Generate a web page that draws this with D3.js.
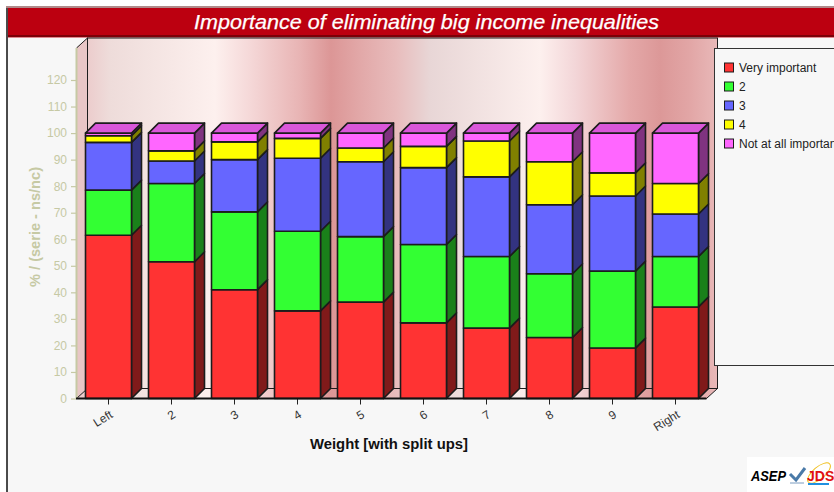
<html>
<head>
    <title>Importance of eliminating big income inequalities</title>
    <style>
        html, body { margin: 0; padding: 0; background: #fff; overflow: hidden; }
        text { font-family: "Liberation Sans", Arial, sans-serif; }
    </style>
</head>
<body>
<svg id="svg" width="834" height="492"></svg>
<script src="https://d3js.org/d3.v7.min.js" charset="utf-8"></script>
<script>
    const categories = ["Left", "2", "3", "4", "5", "6", "7", "8", "9", "Right"];
    const seriesNames = ["Very important", "2", "3", "4", "Not at all important"];
    const veryImportant = [61.5, 51.5, 41, 33, 36.3, 28.5, 26.5, 23, 19, 34.5];
    const two = [17, 29.5, 29.3, 30, 24.7, 29.5, 27, 24, 29, 19];
    const three = [18, 8.5, 19.7, 27.5, 28.2, 29, 30, 26, 28.3, 16];
    const four = [2.5, 3.8, 6.7, 7.5, 5.2, 8, 13.5, 16.2, 8.7, 11.5];
    const notAtAll = [1, 6.7, 3.3, 2, 5.6, 5, 3, 10.8, 15, 19];
    const seriesValues = [veryImportant, two, three, four, notAtAll];
    const yTicks = d3.range(0, 121, 10);

    const colors = ["#ff3333", "#33ff33", "#6666ff", "#ffff00", "#ff66ff"];
    const sideColors = ["#801a1a", "#1a801a", "#333380", "#808000", "#803380"];
    const topColor = "#d957d9";
    const lineColor = "#1c1c1c";
    const axisColor = "#c6c9a4";
    const depth = 10;

    const svg = d3.select("#svg");

    const x = d3.scaleBand().domain(categories).range([77, 707]).paddingInner(17 / 63).paddingOuter(17 / 126);
    const y = d3.scaleLinear().domain([0, 120]).range([398.5, 80]);

    const rows = categories.map(function(c, i) {
        const row = {category: c};
        seriesNames.forEach(function(s, j) { row[j] = seriesValues[j][i]; });
        return row;
    });
    const stacked = d3.stack().keys(d3.range(seriesNames.length))(rows);

    // chart background and frame
    svg.append("rect").attr("x", 7).attr("y", 7).attr("width", 840).attr("height", 500)
        .attr("fill", "#f7f7f7").attr("stroke", "#111").attr("stroke-width", 1.5);
    svg.append("rect").attr("x", 6).attr("y", 6).attr("width", 828).attr("height", 2).attr("fill", "#b08a8a");
    svg.append("rect").attr("x", 8).attr("y", 8).attr("width", 826).attr("height", 27.5).attr("fill", "#bc0010");
    svg.append("rect").attr("x", 8).attr("y", 35).attr("width", 826).attr("height", 2).attr("fill", "#7c0008");
    svg.append("rect").attr("x", 8).attr("y", 37).attr("width", 826).attr("height", 1).attr("fill", "#e08890");
    svg.append("text").attr("x", 426.5).attr("y", 29).attr("text-anchor", "middle")
        .attr("fill", "#fff").attr("stroke", "#fff").attr("stroke-width", 0.25)
        .style("font-size", "20px").style("font-style", "italic")
        .attr("textLength", 465).attr("lengthAdjust", "spacingAndGlyphs")
        .text("Importance of eliminating big income inequalities");

    // wall gradient, repeats along the back wall
    const grad = svg.append("defs").append("linearGradient").attr("id", "wall")
        .attr("gradientUnits", "userSpaceOnUse").attr("x1", 87).attr("x2", 717).attr("y1", 0).attr("y2", 0);
    [[87, "#eccccc"], [110, "#eedcda"], [215, "#fdf0ee"], [250, "#f5d8d8"], [300, "#e8b4b4"], [331, "#dc9696"],
     [360, "#e2a8a8"], [396, "#e8bcbc"], [430, "#e8d6d6"], [540, "#fdf0ee"], [575, "#f3d6d8"], [630, "#e4a8a8"],
     [660, "#dc9898"], [690, "#e2a6a6"], [717, "#e8b8b8"]].forEach(function(d) {
        grad.append("stop").attr("offset", (d[0] - 87) / 630).attr("stop-color", d[1]);
    });

    // back wall, left wall, floor
    const x0 = 76.5, x1 = 706.5, yBase = y(0), yTop = 48;
    svg.append("rect").attr("x", x0 + depth + 1).attr("y", yTop - depth).attr("width", 630).attr("height", yBase - yTop)
        .attr("fill", "url(#wall)").attr("stroke", lineColor);
    svg.append("path").attr("d", d3.line()([[x0, yTop], [x0 + depth + 1, yTop - depth], [x0 + depth + 1, yBase - depth], [x0, yBase]]))
        .attr("fill", "#e8c6c6").attr("stroke", "none");
    svg.append("path").attr("d", d3.line()([[x0, yTop], [x0 + depth + 1, yTop - depth]])).attr("stroke", lineColor).attr("fill", "none");
    svg.append("line").attr("x1", x0 + depth + 1).attr("x2", x0 + depth + 1).attr("y1", yTop - depth).attr("y2", yBase - depth).attr("stroke", lineColor);
    svg.append("path").attr("d", d3.line()([[x0, yBase], [x0 + depth + 1, yBase - depth], [x1 + depth + 1, yBase - depth], [x1, yBase]]) + "Z")
        .attr("fill", "url(#wall)").attr("stroke", lineColor);

    // bars, one group per series so the upper ones draw last
    const w = x.bandwidth();
    const series = svg.selectAll("g.series").data(stacked).enter().append("g").attr("class", "series")
        .attr("stroke", lineColor).attr("stroke-width", 1.6).attr("stroke-linejoin", "round");
    series.each(function(s, j) {
        const g = d3.select(this);
        g.selectAll("path.side").data(s).enter().append("path").attr("class", "side")
            .attr("fill", sideColors[j])
            .attr("d", function(d) {
                const r = x(d.data.category) + w;
                return d3.line()([[r, y(d[1])], [r + depth, y(d[1]) - depth], [r + depth, y(d[0]) - depth], [r, y(d[0])]]) + "Z";
            });
        g.selectAll("rect.front").data(s).enter().append("rect").attr("class", "front")
            .attr("fill", colors[j])
            .attr("x", function(d) { return x(d.data.category); })
            .attr("y", function(d) { return y(d[1]); })
            .attr("width", w)
            .attr("height", function(d) { return y(d[0]) - y(d[1]); });
    });
    svg.append("g").attr("stroke", lineColor).attr("stroke-width", 1.6).attr("stroke-linejoin", "round")
        .selectAll("path").data(stacked[stacked.length - 1]).enter().append("path")
        .attr("fill", topColor)
        .attr("d", function(d) {
            const l = x(d.data.category), t = y(d[1]);
            return d3.line()([[l, t], [l + depth, t - depth], [l + w + depth, t - depth], [l + w, t]]) + "Z";
        });

    // y axis
    const yAxis = svg.append("g").attr("transform", "translate(76,0)")
        .call(d3.axisLeft(y).tickValues(yTicks).tickSize(5).tickPadding(4));
    yAxis.select(".domain").remove();
    yAxis.selectAll("line").attr("stroke", axisColor).attr("stroke-width", 1.2);
    yAxis.selectAll("text").attr("fill", axisColor).style("font-size", "12px").style("font-family", "Liberation Sans");
    svg.append("line").attr("x1", 76.5).attr("x2", 76.5).attr("y1", yTop).attr("y2", yBase)
        .attr("stroke", axisColor).attr("stroke-width", 2);

    // x axis
    const xAxis = svg.append("g").attr("transform", "translate(0," + yBase + ")")
        .call(d3.axisBottom(x).tickSize(6).tickSizeOuter(0));
    xAxis.select(".domain").remove();
    xAxis.selectAll("line").attr("stroke", "#222");
    xAxis.selectAll("text").attr("fill", "#333").style("font-size", "12px").style("font-family", "Liberation Sans")
        .attr("text-anchor", "end").attr("transform", "translate(3,15) rotate(-32)").attr("x", 0).attr("y", 0).attr("dy", "0.32em");
    svg.append("line").attr("x1", 76).attr("x2", x1).attr("y1", yBase).attr("y2", yBase).attr("stroke", "#111").attr("stroke-width", 2);

    // axis titles
    svg.append("text").attr("transform", "translate(40,227) rotate(-90)").attr("text-anchor", "middle")
        .attr("fill", axisColor).style("font-size", "14px").style("font-weight", "bold")
        .attr("textLength", 120).attr("lengthAdjust", "spacingAndGlyphs").text("% / (serie - ns/nc)");
    svg.append("text").attr("x", 389).attr("y", 449).attr("text-anchor", "middle")
        .attr("fill", "#111").style("font-size", "14px").style("font-weight", "bold")
        .attr("textLength", 158).attr("lengthAdjust", "spacingAndGlyphs").text("Weight [with split ups]");

    // legend
    svg.append("rect").attr("x", 714.5).attr("y", 48.5).attr("width", 130).attr("height", 317)
        .attr("fill", "#f7f7f7").attr("stroke", "#333");
    const legendY = d3.scalePoint().domain(seriesNames).range([67.5, 143.5]);
    const legend = svg.selectAll("g.legend").data(seriesNames).enter().append("g").attr("class", "legend")
        .attr("transform", function(d) { return "translate(0," + legendY(d) + ")"; });
    legend.append("rect").attr("x", 724.5).attr("y", -4.5).attr("width", 9).attr("height", 9)
        .attr("fill", function(d, i) { return colors[i]; }).attr("stroke", lineColor);
    legend.append("text").attr("x", 739).attr("y", 4.5).attr("fill", "#222").style("font-size", "12px")
        .text(function(d) { return d; });

    // logo corner
    svg.append("rect").attr("x", 747).attr("y", 457).attr("width", 87).attr("height", 35).attr("fill", "#fff");
    svg.append("text").attr("x", 751).attr("y", 481).attr("fill", "#000").style("font-size", "15px")
        .style("font-weight", "900").style("font-style", "italic").attr("textLength", 35).attr("lengthAdjust", "spacingAndGlyphs").text("ASEP");
    svg.append("path").attr("d", d3.line()([[790, 474], [796, 480], [805, 468]])).attr("fill", "none")
        .attr("stroke", "#4a7aa8").attr("stroke-width", 3);
    svg.append("line").attr("x1", 790).attr("x2", 804).attr("y1", 483).attr("y2", 483).attr("stroke", "#7a9cc0").attr("stroke-width", 1);
    svg.append("ellipse").attr("transform", "translate(819,473) rotate(-40)").attr("rx", 14).attr("ry", 6)
        .attr("fill", "none").attr("stroke", "#f0c020").attr("stroke-width", 1);
    svg.append("text").attr("x", 807).attr("y", 481).attr("fill", "#e01010").style("font-size", "14px")
        .style("font-weight", "bold").text("JDS");
    svg.append("line").attr("x1", 808).attr("x2", 829).attr("y1", 484).attr("y2", 484).attr("stroke", "#2090e0").attr("stroke-width", 2);
</script>
</body>
</html>
